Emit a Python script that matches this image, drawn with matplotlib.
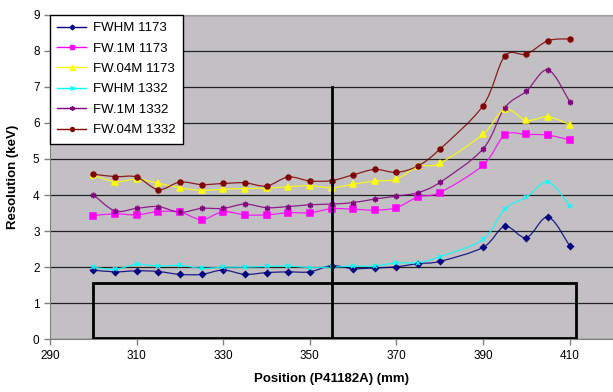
import numpy as np
import matplotlib
matplotlib.use("Agg")
import matplotlib.pyplot as plt
from matplotlib.path import Path
from matplotlib.patches import PathPatch, Rectangle
from matplotlib.lines import Line2D

plt.rcParams['font.family'] = ['Liberation Sans', 'DejaVu Sans']

# position along the detector (mm)
position = [300, 305, 310, 315, 320, 325, 330, 335, 340, 345, 350, 355,
            360, 365, 370, 375, 380, 390, 395, 400, 405, 410]

fwhm_1173 = [1.92, 1.87, 1.90, 1.88, 1.80, 1.80, 1.92, 1.80, 1.85, 1.87, 1.87,
             2.04, 1.96, 1.98, 2.01, 2.10, 2.16, 2.55, 3.13, 2.82, 3.39, 2.59]
fw1m_1173 = [3.43, 3.48, 3.45, 3.54, 3.53, 3.32, 3.54, 3.45, 3.45, 3.51, 3.51,
             3.62, 3.61, 3.58, 3.65, 3.95, 4.07, 4.83, 5.66, 5.68, 5.66, 5.53]
fw04m_1173 = [4.55, 4.37, 4.44, 4.33, 4.20, 4.13, 4.16, 4.18, 4.19, 4.23, 4.26,
              4.20, 4.30, 4.39, 4.44, 4.80, 4.88, 5.69, 6.38, 6.07, 6.17, 5.95]
fwhm_1332 = [2.00, 1.94, 2.08, 2.03, 2.05, 1.97, 2.00, 2.00, 2.02, 2.03, 1.99,
             2.00, 2.03, 2.03, 2.12, 2.12, 2.29, 2.77, 3.61, 3.94, 4.36, 3.70]
fw1m_1332 = [4.01, 3.56, 3.63, 3.68, 3.52, 3.63, 3.63, 3.75, 3.65, 3.68, 3.73,
             3.75, 3.79, 3.89, 3.97, 4.07, 4.35, 5.28, 6.42, 6.88, 7.47, 6.59]
fw04m_1332 = [4.58, 4.51, 4.50, 4.15, 4.36, 4.29, 4.32, 4.34, 4.25, 4.50, 4.39,
              4.40, 4.56, 4.71, 4.63, 4.81, 5.27, 6.48, 7.85, 7.91, 8.28, 8.33]

labels = ['FWHM 1173', 'FW.1M 1173', 'FW.04M 1173',
          'FWHM 1332', 'FW.1M 1332', 'FW.04M 1332']
series = [fwhm_1173, fw1m_1173, fw04m_1173, fwhm_1332, fw1m_1332, fw04m_1332]
colors = ['#000080', '#ff00ff', '#ffff00', '#00ffff', '#800080', '#800000']
markers = ['D', 's', '^', 'x', (6, 2, 0), 'o']
msizes = [3.0, 4.0, 4.5, 3.5, 4.0, 3.5]

# boxed region and marker line
box_x = (300, 411.5)
box_y = (0.03, 1.55)
cut_x = 355
cut_top = 7


def smooth_path(xs, ys):
    # cubic bezier through the points, similar to spreadsheet smoothed lines
    pts = np.column_stack([xs, ys]).astype(float)
    n = len(pts)
    verts = [pts[0]]
    codes = [Path.MOVETO]
    for i in range(n - 1):
        p0 = pts[i - 1] if i > 0 else pts[i]
        p1 = pts[i]
        p2 = pts[i + 1]
        p3 = pts[i + 2] if i + 2 < n else pts[i + 1]
        verts += [p1 + (p2 - p0) / 6, p2 - (p3 - p1) / 6, p2]
        codes += [Path.CURVE4] * 3
    return Path(verts, codes)


fig = plt.figure(figsize=(6.13, 3.92), dpi=100)
ax = fig.add_axes([0.0816, 0.1344, 0.9184, 0.8281])
ax.set_facecolor('#c2c0c3')

for y, c, m, ms in zip(series, colors, markers, msizes):
    ax.add_patch(PathPatch(smooth_path(position, y), facecolor='none',
                           edgecolor=c, lw=0.9, alpha=0.85, zorder=3))
    ax.plot(position, y, ls='none', marker=m, color=c, ms=ms, mew=1.1, zorder=4)

ax.add_patch(Rectangle((box_x[0], box_y[0]), box_x[1] - box_x[0],
                       box_y[1] - box_y[0], fill=False, ec='black', lw=2, zorder=5))
ax.plot([cut_x, cut_x], [0, cut_top], color='black', lw=2, zorder=5)

ax.set_xlim(290, 420)
ax.set_ylim(0, 9)
ax.set_xticks(np.arange(290, 411, 20))
ax.set_yticks(np.arange(0, 10, 1))
ax.yaxis.grid(True, color='#222222', lw=0.9)
ax.set_axisbelow(True)
ax.tick_params(labelsize=8.5, length=4, color='#808080', width=1)
for s in ['left', 'bottom']:
    ax.spines[s].set_color('#808080')
ax.spines['top'].set_color('#a0a0a0')
ax.spines['right'].set_visible(False)

ax.set_xlabel('Position (P41182A) (mm)', fontsize=9.5, fontweight='bold', labelpad=8)
ax.set_ylabel('Resolution (keV)', fontsize=9.5, fontweight='bold', labelpad=10)

handles = [Line2D([], [], color=c, marker=m, ms=ms * 0.8, lw=1)
           for c, m, ms in zip(colors, markers, msizes)]
leg = ax.legend(handles, labels, loc='upper left', bbox_to_anchor=(0, 1),
                borderaxespad=0, fontsize=9.5, frameon=True, fancybox=False,
                edgecolor='black', framealpha=1, handlelength=2.2,
                labelspacing=0.62, borderpad=0.55, handletextpad=0.5)
leg.get_frame().set_linewidth(1)

fig.savefig('out.png', dpi=100)
